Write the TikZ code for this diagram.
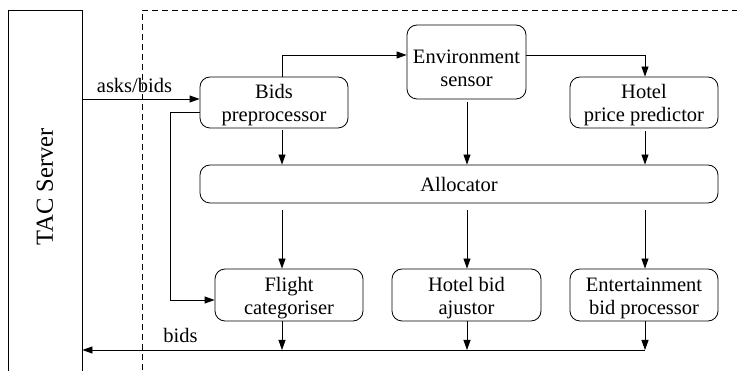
\documentclass[tikz,border=0pt]{standalone}
\usepackage{fontspec}
\newfontfamily\tms{Liberation Serif}
\usetikzlibrary{arrows.meta}
\newcommand\twoline[3]{\raisebox{#1}[\height][\depth]{\begin{tabular}{@{}c@{}}#2\\#3\end{tabular}}}
\begin{document}
\begin{tikzpicture}[x=1pt,y=-1pt,
  box/.style={draw, rounded corners=10pt, line width=0.8pt, align=center,
    font=\tms\fontsize{20.5}{23}\selectfont, inner sep=0pt},
  arr/.style={-{Triangle[length=10pt,width=7pt]}, line width=0.8pt},
  lbl/.style={font=\tms\fontsize{20.5}{23}\selectfont, inner sep=0pt}]
\useasboundingbox (0,0) rectangle (737,371);
\clip (0,0) rectangle (737,371);

% TAC server
\node[draw, line width=0.8pt, minimum width=74pt, minimum height=380pt, anchor=north, inner sep=0pt] (tac) at (45,10) {};
\node[rotate=90, font=\tms\fontsize{24.5}{28}\selectfont, inner sep=0pt] (tactext) at (45,187) {TAC Server};

% dashed agent boundary
\draw[dashed, line width=0.8pt, dash pattern=on 6pt off 4pt] (142,380) -- (142,10) -- (740,10);

% boxes
\node[box, minimum width=148pt, minimum height=51pt] (bp) at (274,102.5) {\twoline{-3pt}{Bids}{preprocessor}};
\node[box, minimum width=119pt, minimum height=74pt] (env) at (466.5,62) {\twoline{-8pt}{Environment}{sensor}};
\node[box, minimum width=148pt, minimum height=51pt] (hpp) at (644,102.5) {\twoline{-3pt}{Hotel}{price predictor}};
\node[box, minimum width=518pt, minimum height=38pt] (alloc) at (459,184) {Allocator};
\node[box, minimum width=148pt, minimum height=52pt] (fc) at (289,295) {\twoline{-3pt}{Flight}{categoriser}};
\node[box, minimum width=149pt, minimum height=52pt] (hba) at (466.5,295) {\twoline{-3pt}{Hotel bid}{ajustor}};
\node[box, minimum width=148pt, minimum height=52pt] (ebp) at (644,295) {\twoline{-3pt}{Entertainment}{bid processor}};

% coordinates for columns
\coordinate (c1) at (282,0);
\coordinate (c2) at (467,0);
\coordinate (c3) at (645,0);
\coordinate (r1) at (0,99);
\coordinate (r2) at (0,112);
\coordinate (r3) at (0,300);
\coordinate (r4) at (0,55);
\coordinate (rb) at (0,350);
\coordinate (kx) at (170,0);

% asks/bids
\draw[arr] (tac.east |- r1) -- (bp.west |- r1);
\node[lbl, anchor=base] (askslbl) at (134.5,93) {asks/bids};

% bypass to flight categoriser
\draw[arr] (bp.west |- r2) -- (kx |- r2) -- (kx |- r3) -- (fc.west |- r3);

% bids preprocessor to environment sensor
\draw[arr] (bp.north -| c1) -- (c1 |- r4) -- (env.west |- r4);
% environment sensor to hotel price predictor
\draw[arr] (env.east |- r4) -- (c3 |- r4) -- (hpp.north -| c3);

% into allocator
\draw[arr, shorten <=2pt] (bp.south -| c1) -- (alloc.north -| c1);
\draw[arr, shorten <=3pt] (env.south -| c2) -- (alloc.north -| c2);
\draw[arr, shorten <=3pt] (hpp.south -| c3) -- (alloc.north -| c3);

% allocator to bottom boxes
\draw[arr, shorten <=7pt] (alloc.south -| c1) -- (fc.north -| c1);
\draw[arr, shorten <=7pt] (alloc.south -| c2) -- (hba.north -| c2);
\draw[arr, shorten <=7pt] (alloc.south -| c3) -- (ebp.north -| c3);

% bottom boxes to bids line
\draw[arr] (fc.south -| c1) -- (c1 |- rb);
\draw[arr] (hba.south -| c2) -- (c2 |- rb);
\draw[arr] (ebp.south -| c3) -- (c3 |- rb);
\draw[arr] (c3 |- rb) -- (tac.east |- rb);
\node[lbl, anchor=base] (bidslbl) at (180.5,343) {bids};
\end{tikzpicture}
\end{document}
